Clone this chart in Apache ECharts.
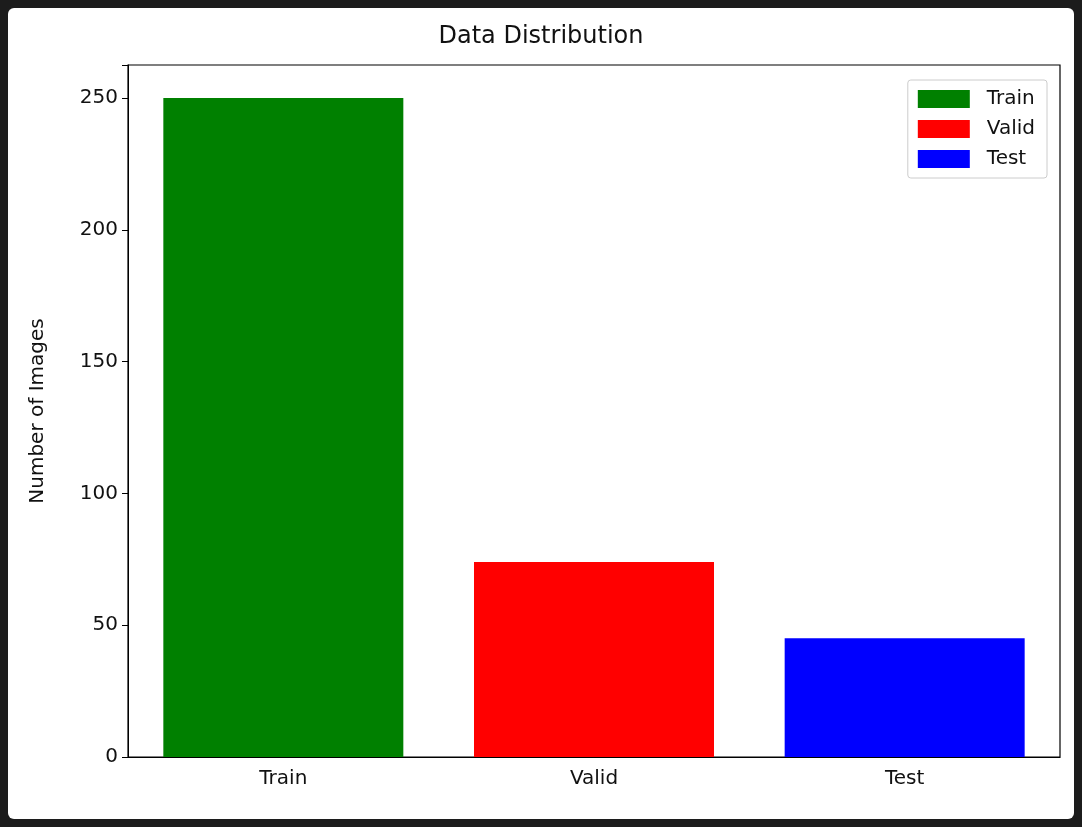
<!DOCTYPE html>
<html><head><meta charset="utf-8">
<script src="https://cdn.jsdelivr.net/npm/echarts@6/dist/echarts.min.js"></script>
<style>
html,body{margin:0;padding:0;background:#1c1c1c;}
#frame{position:absolute;left:8px;top:8px;width:1066px;height:811px;background:#fff;border-radius:6px;overflow:hidden;}
#c{position:absolute;left:-8px;top:-8px;width:1082px;height:827px;}
</style></head><body>
<div id="frame"><div id="c"></div></div>
<script>
const categories = ['Train','Valid','Test'];
const values = [250, 74, 45];
const colors = ['#008000','#ff0000','#0000ff'];
const yTicks = [0,50,100,150,200,250];

const chart = echarts.init(document.getElementById('c'));
const font = 'DejaVu Sans';
const series = categories.map((name,i)=>({
  name, type:'bar', barWidth:240, barGap:'-100%',
  itemStyle:{color:colors[i]},
  data: categories.map((_,j)=> j===i ? values[i] : '-')
}));
chart.setOption({
  animation:false,
  textStyle:{fontFamily:font},
  title:{text:'Data Distribution',left:'center',top:20,textStyle:{fontFamily:font,fontWeight:'normal',fontSize:24,color:'#111'}},
  legend:{orient:'vertical',right:35,top:80,itemWidth:52,itemHeight:18,itemGap:10,
    borderColor:'#ccc',borderWidth:1,borderRadius:3,padding:[9,12,9,10],
    textStyle:{fontFamily:font,fontSize:20,color:'#111',padding:[0,0,0,12]},
    icon:'rect', data:categories},
  grid:{left:128,right:22,top:65,bottom:70,containLabel:false,show:true,borderColor:'#000',borderWidth:1.2,backgroundColor:'transparent'},
  xAxis:{type:'category',data:categories,
    axisLine:{lineStyle:{color:'#000'}},axisTick:{alignWithLabel:true,length:6,lineStyle:{color:'#000'}},
    axisLabel:{fontSize:20,color:'#111',margin:12}},
  yAxis:{type:'value',min:0,max:262.5,interval:50,
    name:'Number of Images',nameLocation:'middle',nameGap:80,nameTextStyle:{fontSize:20,color:'#111'},
    axisLine:{show:true,lineStyle:{color:'#000'}},axisTick:{show:true,length:6,lineStyle:{color:'#000'}},
    splitLine:{show:false},
    axisLabel:{fontSize:20,color:'#111',margin:10,formatter:v=>yTicks.includes(v)?String(v):''}},
  series
});
</script></body></html>
